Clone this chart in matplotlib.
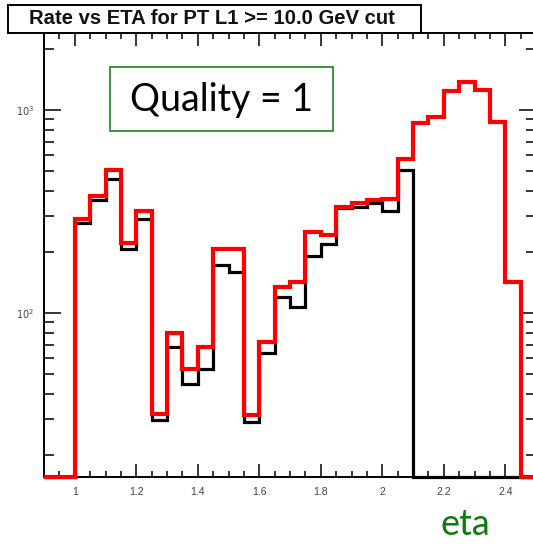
import numpy as np
import matplotlib
matplotlib.use("Agg")
import matplotlib.pyplot as plt
from matplotlib.ticker import MultipleLocator, FixedLocator, FuncFormatter, NullFormatter
from matplotlib.patches import Rectangle

# bin edges in eta (0.05 wide)
eta_edges = [0.90, 0.95, 1.00, 1.05, 1.10, 1.15, 1.20, 1.25, 1.30, 1.35, 1.40,
             1.45, 1.50, 1.55, 1.60, 1.65, 1.70, 1.75, 1.80, 1.85, 1.90, 1.95,
             2.00, 2.05, 2.10, 2.15, 2.20, 2.25, 2.30, 2.35, 2.40, 2.45, 2.50]

# rate per bin, red histogram (all)
rate_red = [0, 0, 290, 377, 506, 222, 318, 32, 80, 53, 68,
            207, 207, 31.5, 72, 134, 142, 250, 244, 333, 348, 360,
            365, 574, 863, 925, 1241, 1374, 1255, 873, 142, 0]

# rate per bin, black histogram
rate_black = [0, 0, 277, 360, 460, 206, 292, 29.7, 68, 45, 53,
              172, 159, 29, 64, 120, 107, 192, 218, 328, 332, 350,
              318, 505, 0, 0, 0, 0, 0, 0, 0, 0]

title = "Rate vs ETA for PT L1 >= 10.0 GeV cut"
ymin, ymax = 15.6, 2400

W, H = 533, 545
fig = plt.figure(figsize=(W / 100, H / 100), dpi=100)
ax = fig.add_axes([44 / W, (H - 477) / H, (536 - 44) / W, (477 - 33) / H])
ax.set_yscale('log')

edges = np.array(eta_edges)
red = np.array(rate_red, dtype=float)
black = np.array(rate_black, dtype=float)
# zero bins are drawn on the frame bottom, like ROOT does
red_draw = np.where(red > 0, red, ymin)
black_draw = np.where(black > 0, black, ymin)

ax.stairs(black_draw, edges, baseline=None, color='black', lw=2.3, zorder=2, clip_on=False)
ax.stairs(red_draw, edges, baseline=None, color='#ff0000', lw=3.0, zorder=3, clip_on=False)

ax.set_xlim(0.9, 2.5)
ax.set_ylim(ymin, ymax)

ax.xaxis.set_major_locator(MultipleLocator(0.2))
ax.xaxis.set_minor_locator(MultipleLocator(0.05))
ax.xaxis.set_major_formatter(FuncFormatter(lambda v, p: '%g' % round(v, 2)))
ax.yaxis.set_major_locator(FixedLocator([100, 1000]))
ax.yaxis.set_minor_locator(FixedLocator([20, 30, 40, 50, 60, 70, 80, 90,
                                         200, 300, 400, 500, 600, 700, 800, 900, 2000]))
ax.yaxis.set_major_formatter(FuncFormatter(lambda v, p: r'$10^{%d}$' % round(np.log10(v))))
ax.yaxis.set_minor_formatter(NullFormatter())

ax.tick_params(which='both', direction='in', top=True, right=True, width=1.1,
               colors='black', labelcolor='#404040')
ax.tick_params(axis='x', which='major', length=9.5, labelsize=7.5, pad=7)
ax.tick_params(axis='x', which='minor', length=4.5)
ax.tick_params(axis='y', which='major', length=12.5, labelsize=7, pad=7)
ax.tick_params(axis='y', which='minor', length=7.5)
for s in ax.spines.values():
    s.set_linewidth(1.4)

for lab in ax.get_xticklabels() + ax.get_yticklabels():
    lab.set_family('Liberation Sans')

# title box over the top frame
fig.patches.append(Rectangle((8 / W, 1 - 33 / H), (421 - 8) / W, 28 / H,
                             transform=fig.transFigure, facecolor='white',
                             edgecolor='black', lw=1.4, zorder=10))
fig.text(212 / W, 1 - 19 / H, title, ha='center', va='center', fontsize=14.6,
         fontweight='bold', family='Liberation Sans', color='#111111', zorder=11)

# quality label box
fig.patches.append(Rectangle((110 / W, 1 - 131 / H), (333 - 110) / W, (131 - 67) / H,
                             transform=fig.transFigure, facecolor='white',
                             edgecolor='#2e8b2e', lw=1.3, zorder=10))
fig.text(222 / W, 1 - 100 / H, "Quality = 1", ha='center', va='center',
         fontsize=27, family='Lato', color='black', zorder=11)

fig.text(465 / W, 1 - 535 / H, "eta", ha='center', va='baseline',
         fontsize=26, family='Lato', color='#0f7a0f')

fig.savefig('out.png', dpi=100)
